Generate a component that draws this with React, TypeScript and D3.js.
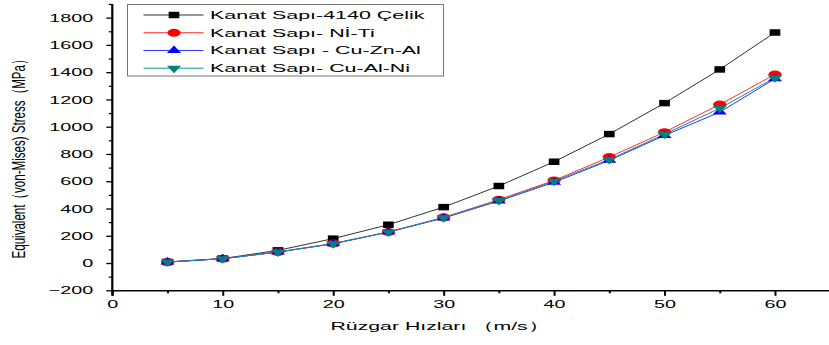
import React, { useRef, useEffect } from 'react';
import * as d3 from 'd3';

// wind speeds (m/s)
const speeds = [5, 10, 15, 20, 25, 30, 35, 40, 45, 50, 55, 60];

// equivalent (von-Mises) stress, MPa
const celik = [8, 33, 93, 179, 281, 410, 565, 743, 946, 1173, 1420, 1691];
const niTi = [7, 32, 81, 143, 228, 335, 465, 606, 777, 960, 1163, 1383];
const cuZnAl = [7, 32, 80, 141, 227, 330, 455, 592, 753, 936, 1107, 1352];
const cuAlNi = [7, 32, 81, 142, 227, 332, 458, 600, 759, 945, 1135, 1359];

const seriesNames = [
  'Kanat Sapı-4140 Çelik',
  'Kanat Sapı- Nİ-Ti',
  'Kanat Sapı - Cu-Zn-Al',
  'Kanat Sapı- Cu-Al-Ni',
];

const yTickValues = [-200, 0, 200, 400, 600, 800, 1000, 1200, 1400, 1600, 1800];
const yMinorValues = [-100, 100, 300, 500, 700, 900, 1100, 1300, 1500, 1700, 1900];
const xTickValues = [0, 10, 20, 30, 40, 50, 60];
const xMinorValues = [5, 15, 25, 35, 45, 55, 65];

const yTitle = 'Equivalent（von-Mises) Stress（MPa）';
const xTitle = 'Rüzgar Hızları （m/s）';

function App() {
  const svgRef = useRef<SVGSVGElement>(null);
  const width = 829;
  const height = 345;
  const font = "'Liberation Sans', Arial, sans-serif";

  useEffect(() => {
    const svg = d3.select(svgRef.current);
    svg.selectAll('*').remove();

    const x = d3.scaleLinear().domain([0, 65]).range([112.3, 830.2]);
    const y = d3.scaleLinear().domain([-200, 1900]).range([290.3, 4]);

    const series = [
      { name: seriesNames[0], values: celik, color: '#000000', line: '#333333', symbol: d3.symbolSquare, size: 42, rot: 0 },
      { name: seriesNames[1], values: niTi, color: '#ff0000', line: '#ff3030', symbol: d3.symbolCircle, size: 50, rot: 0 },
      { name: seriesNames[2], values: cuZnAl, color: '#0000ff', line: '#3030ff', symbol: d3.symbolTriangle, size: 32, rot: 0 },
      { name: seriesNames[3], values: cuAlNi, color: '#008080', line: '#159090', symbol: d3.symbolTriangle, size: 32, rot: 180 },
    ];

    // y axis
    const yMinor = svg.append('g').attr('transform', `translate(${x(0)},0)`)
      .call(d3.axisLeft(y).tickValues(yMinorValues).tickSize(3.5).tickSizeOuter(0).tickFormat(() => ''));
    yMinor.select('.domain').remove();
    yMinor.selectAll('line').attr('stroke', '#000').attr('stroke-width', 1.2);

    const yAxis = svg.append('g').attr('transform', `translate(${x(0)},0)`)
      .call(d3.axisLeft(y).tickValues(yTickValues).tickSize(6).tickSizeOuter(0).tickFormat(d3.format('d')));
    yAxis.select('.domain').remove();
    yAxis.selectAll('line').attr('stroke', '#000').attr('stroke-width', 1.3);
    yAxis.selectAll('text')
      .attr('x', -19 / 1.72)
      .attr('transform', 'scale(1.72,1)')
      .attr('font-size', 11.5)
      .attr('font-family', font)
      .attr('fill', '#000');

    // x axis
    const xMinor = svg.append('g').attr('transform', `translate(0,${y(-200)})`)
      .call(d3.axisBottom(x).tickValues(xMinorValues).tickSize(3).tickSizeOuter(0).tickFormat(() => ''));
    xMinor.select('.domain').remove();
    xMinor.selectAll('line').attr('stroke', '#000').attr('stroke-width', 2);

    const xAxis = svg.append('g').attr('transform', `translate(0,${y(-200)})`)
      .call(d3.axisBottom(x).tickValues(xTickValues).tickSize(5.5).tickSizeOuter(0).tickFormat(d3.format('d')));
    xAxis.select('.domain').attr('stroke', '#000').attr('stroke-width', 1.4);
    xAxis.selectAll('line').attr('stroke', '#000').attr('stroke-width', 2);
    xAxis.selectAll('text')
      .attr('y', 10)
      .attr('transform', 'scale(1.72,1)')
      .attr('font-size', 11.5)
      .attr('font-family', font)
      .attr('fill', '#000');

    svg.append('line')
      .attr('x1', x(0)).attr('x2', x(0))
      .attr('y1', y(1900)).attr('y2', y(-200) + 5.5)
      .attr('stroke', '#000').attr('stroke-width', 2.2);

    // titles
    svg.append('text')
      .attr('transform', `translate(${(x(0) + x(60)) / 2 - 4},330) scale(1.85,1)`)
      .attr('text-anchor', 'middle')
      .attr('font-size', 11.5)
      .attr('font-family', font)
      .attr('fill', '#000')
      .text(xTitle);

    svg.append('text')
      .attr('transform', `translate(25,156) scale(1.5,1) rotate(-90)`)
      .attr('text-anchor', 'middle')
      .attr('font-size', 12.5)
      .attr('font-family', font)
      .attr('fill', '#000')
      .attr('textLength', 205)
      .attr('lengthAdjust', 'spacingAndGlyphs')
      .text(yTitle);

    // lines
    const line = d3.line<number>()
      .x((d, i) => x(speeds[i]))
      .y((d) => y(d));

    series.forEach((s) => {
      svg.append('path')
        .datum(s.values)
        .attr('fill', 'none')
        .attr('stroke', s.line)
        .attr('stroke-width', 1)
        .attr('d', line);
    });

    series.forEach((s) => {
      svg.append('g')
        .selectAll('path')
        .data(s.values)
        .join('path')
        .attr('d', d3.symbol().type(s.symbol).size(s.size))
        .attr('transform', (d, i) => `translate(${x(speeds[i])},${y(d)}) scale(1.65,1) rotate(${s.rot})`)
        .attr('fill', s.color);
    });

    // legend
    const legend = svg.append('g');
    legend.append('rect')
      .attr('x', 127.5).attr('y', 4.5)
      .attr('width', 316).attr('height', 71.5)
      .attr('fill', '#fff')
      .attr('stroke', '#777')
      .attr('stroke-width', 1);

    const rowY = d3.scaleLinear().domain([0, 3]).range([15, 68.2]);
    const rows = legend.selectAll('g.row')
      .data(series)
      .join('g')
      .attr('class', 'row')
      .attr('transform', (d, i) => `translate(0,${rowY(i)})`);
    rows.append('line')
      .attr('x1', 143.5).attr('x2', 203.5)
      .attr('stroke', (d) => d.line).attr('stroke-width', 1);
    rows.append('path')
      .attr('d', (d) => d3.symbol().type(d.symbol).size(d.size)())
      .attr('transform', (d) => `translate(174,0) scale(1.65,1) rotate(${d.rot})`)
      .attr('fill', (d) => d.color);
    rows.append('text')
      .attr('transform', 'translate(210,4) scale(1.95,1)')
      .attr('font-size', 11)
      .attr('font-family', font)
      .attr('fill', '#000')
      .text((d) => d.name);
  }, []);

  return (
    <div style={{ position: 'absolute', left: 0, top: 0, width: width, height: height, background: '#fff' }}>
      <svg ref={svgRef} width={width} height={height} style={{ display: 'block' }}></svg>
    </div>
  );
}

export default App;
